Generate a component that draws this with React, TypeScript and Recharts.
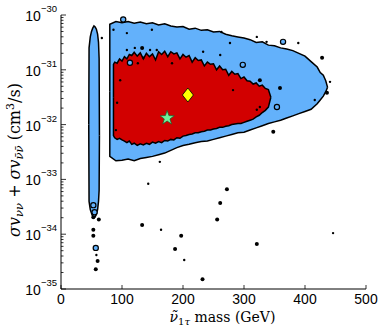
import React from "react";
import { Area, ComposedChart, Scatter, XAxis, YAxis } from "recharts";

// axis ticks
const massTicks = [0, 100, 200, 300, 400, 500];
const decades = [-35, -34, -33, -32, -31, -30];

// light blue region (log10 of sigma v), left edge and right tip closed with lo == hi
const outerMass = [80, 80, 90, 100, 110, 120, 130, 140, 150, 160, 170, 180, 190, 200, 210, 220, 230, 240, 250, 260, 270, 280, 290, 300, 310, 320, 330, 340, 350, 360, 370, 380, 390, 400, 410, 420, 425, 430, 434, 437];
const outerHigh = [-31.4, -30.17, -30.12, -30.14, -30.12, -30.15, -30.13, -30.16, -30.14, -30.18, -30.16, -30.2, -30.22, -30.21, -30.26, -30.24, -30.28, -30.27, -30.31, -30.3, -30.35, -30.38, -30.4, -30.42, -30.45, -30.5, -30.49, -30.55, -30.56, -30.6, -30.62, -30.65, -30.7, -30.75, -30.85, -30.95, -31.05, -31.1, -31.2, -31.32];
const outerLow = [-31.4, -32.58, -32.66, -32.65, -32.63, -32.66, -32.62, -32.6, -32.58, -32.55, -32.52, -32.47, -32.42, -32.38, -32.36, -32.33, -32.31, -32.3, -32.27, -32.24, -32.21, -32.18, -32.15, -32.14, -32.1, -32.06, -32.02, -31.98, -31.95, -31.92, -31.88, -31.84, -31.8, -31.76, -31.72, -31.62, -31.55, -31.48, -31.4, -31.32];

// red region
const innerMass = [86, 86, 88, 92, 96, 100, 104, 108, 112, 116, 120, 125, 130, 135, 140, 145, 150, 155, 160, 165, 170, 175, 180, 185, 190, 195, 200, 205, 210, 215, 220, 225, 230, 235, 240, 245, 250, 255, 260, 265, 270, 275, 280, 285, 290, 295, 300, 305, 310, 315, 320, 325, 330, 335, 340, 344];
const innerHigh = [-31.5, -30.9, -30.86, -30.88, -30.8, -30.84, -30.76, -30.8, -30.72, -30.74, -30.68, -30.75, -30.69, -30.8, -30.7, -30.76, -30.71, -30.82, -30.67, -30.72, -30.66, -30.76, -30.67, -30.71, -30.69, -30.8, -30.72, -30.77, -30.74, -30.86, -30.78, -30.83, -30.82, -30.93, -30.86, -30.9, -30.89, -31.0, -30.93, -31.0, -30.99, -31.1, -31.03, -31.08, -31.07, -31.16, -31.13, -31.2, -31.21, -31.26, -31.24, -31.3, -31.28, -31.34, -31.36, -31.5];
const innerLow = [-31.5, -32.2, -32.24, -32.27, -32.25, -32.28, -32.3, -32.33, -32.3, -32.36, -32.34, -32.38, -32.35, -32.37, -32.34, -32.36, -32.32, -32.34, -32.31, -32.33, -32.29, -32.3, -32.27, -32.28, -32.24, -32.25, -32.21, -32.2, -32.18, -32.17, -32.15, -32.15, -32.13, -32.12, -32.1, -32.1, -32.08, -32.07, -32.05, -32.05, -32.03, -32.02, -32.0, -31.99, -31.98, -31.98, -31.96, -31.94, -31.92, -31.9, -31.86, -31.83, -31.78, -31.74, -31.68, -31.5];

// narrow blue strip near 55 GeV
const stripMass = [45.5, 46, 48, 50, 52, 54, 56, 58, 60, 61.5, 62.5, 63];
const stripHigh = [-32, -30.6, -30.4, -30.3, -30.24, -30.2, -30.22, -30.26, -30.35, -30.5, -30.8, -32.2];
const stripLow = [-32, -33.4, -33.55, -33.62, -33.68, -33.7, -33.68, -33.64, -33.55, -33.4, -33.2, -32.2];

// isolated islands
const islandMass = [53, 55, 57, 102, 113, 364, 298, 354];
const islandLog = [-33.47, -33.6, -34.25, -30.08, -30.87, -30.49, -30.91, -31.68];

const dotMass = [143, 162, 164, 202, 446, 86, 108, 149, 108, 121, 146, 157, 182, 126, 135, 97, 263, 321, 337, 389, 277, 233, 261, 416, 441, 282, 326, 321, 67, 92, 90, 58];
const dotLog = [-33.08, -32.68, -33.92, -34.47, -33.98, -30.27, -30.33, -30.27, -30.64, -30.6, -30.64, -30.64, -30.88, -30.88, -30.78, -31.19, -30.31, -30.4, -30.49, -30.51, -30.51, -30.67, -30.73, -31.55, -31.22, -31.37, -31.68, -31.73, -30.42, -31.6, -32.1, -34.38];

const blobMass = [272, 261, 256, 133, 197, 321, 187, 232, 348, 133, 428, 436, 326, 359, 53, 62, 53, 53, 60, 57];
const blobLog = [-33.18, -33.43, -33.73, -33.83, -34.03, -34.18, -34.27, -34.82, -32.13, -30.6, -30.78, -31.42, -31.19, -31.33, -33.69, -33.73, -33.92, -34.03, -34.49, -34.64];

const bestMass = [208];
const bestLog = [-31.46];
const starMass = [174];
const starLog = [-31.88];

const band = (m: number[], lo: number[], hi: number[]) =>
  m.map((mass, i) => ({ mass, band: [lo[i], hi[i]] }));
const pts = (m: number[], l: number[]) => m.map((mass, i) => ({ mass, log: l[i] }));

const minorTicks: number[] = [];
decades.slice(0, -1).forEach((d) => {
  for (let k = 2; k <= 9; k++) minorTicks.push(d + Math.log10(k));
});
const yTicks = [...decades, ...minorTicks].sort((a, b) => a - b);

const sans = "'Liberation Sans', Arial, sans-serif";
const serif = "'DejaVu Serif', serif";
const isMajor = (v: number) => Math.abs(v - Math.round(v)) < 1e-6;

function BottomTick({ x, y, payload }: any) {
  return (
    <g>
      <line x1={x} x2={x} y1={y} y2={y - 4} stroke="#000" strokeWidth={0.8} />
      <text x={x} y={y + 15} textAnchor="middle" fontSize={14} fontFamily={sans}>
        {payload.value}
      </text>
    </g>
  );
}

function TopTick({ x, y }: any) {
  return <line x1={x} x2={x} y1={y} y2={y + 4} stroke="#000" strokeWidth={0.8} />;
}

function LeftTick({ x, y, payload }: any) {
  const v = payload.value;
  const major = isMajor(v);
  return (
    <g>
      <line x1={x} x2={x + (major ? 5 : 2.5)} y1={y} y2={y} stroke="#000" strokeWidth={0.8} />
      {major && (
        <text x={x - 4} y={y + 6} textAnchor="end" fontSize={14} fontFamily={sans}>
          10
          <tspan dy={-9} fontSize={9.5}>
            {"\u2212" + Math.abs(Math.round(v))}
          </tspan>
        </text>
      )}
    </g>
  );
}

function RightTick({ x, y, payload }: any) {
  const major = isMajor(payload.value);
  return <line x1={x} x2={x - (major ? 5 : 2.5)} y1={y} y2={y} stroke="#000" strokeWidth={0.8} />;
}

const dot = (r: number) => (p: any) => <circle cx={p.cx} cy={p.cy} r={r} fill="#000" />;
const island = (p: any) => (
  <circle cx={p.cx} cy={p.cy} r={2.6} fill="#63b1fb" stroke="#000" strokeWidth={1.2} />
);
const diamond = (p: any) => (
  <path
    d={`M${p.cx},${p.cy - 7}L${p.cx + 5.5},${p.cy}L${p.cx},${p.cy + 7}L${p.cx - 5.5},${p.cy}Z`}
    fill="#ffff00"
    stroke="#000"
    strokeWidth={0.8}
  />
);
const star = (p: any) => {
  let d = "";
  for (let i = 0; i < 10; i++) {
    const r = i % 2 === 0 ? 7.5 : 3;
    const a = -Math.PI / 2 + (i * Math.PI) / 5;
    d += `${i === 0 ? "M" : "L"}${p.cx + r * Math.cos(a)},${p.cy + r * Math.sin(a)}`;
  }
  return <path d={d + "Z"} fill="#6ff09a" stroke="#1a5a2a" strokeWidth={0.7} />;
};

export default function App() {
  return (
    <div style={{ position: "absolute", left: 0, top: 0 }}>
      <ComposedChart width={382} height={327} margin={{ top: 15, right: 16, bottom: 0, left: 0 }}>
        <XAxis
          type="number"
          dataKey="mass"
          domain={[0, 500]}
          ticks={massTicks}
          allowDataOverflow
          height={38}
          tickSize={0}
          tickMargin={0}
          tickLine={false}
          tick={<BottomTick />}
          axisLine={{ stroke: "#000", strokeWidth: 1 }}
          label={{
            content: (p: any) => (
              <text x={p.viewBox.x + p.viewBox.width / 2 + 9} y={322} textAnchor="middle" fontFamily={serif} fontSize={14}>
                <tspan fontStyle="italic">{"\u03bd\u0303"}</tspan>
                <tspan fontSize={10} dy={3}>1</tspan>
                <tspan fontSize={10} fontStyle="italic">{"\u03c4"}</tspan>
                <tspan dy={-3}>{"  mass (GeV)"}</tspan>
              </text>
            ),
          }}
        />
        <XAxis
          xAxisId="top"
          orientation="top"
          type="number"
          domain={[0, 500]}
          ticks={massTicks}
          allowDataOverflow
          height={0}
          tickSize={0}
          tickMargin={0}
          tickLine={false}
          tick={<TopTick />}
          axisLine={{ stroke: "#8c8c8c", strokeWidth: 2 }}
        />
        <YAxis
          type="number"
          dataKey="log"
          domain={[-35, -30]}
          ticks={yTicks}
          interval={0}
          allowDataOverflow
          width={61}
          tickSize={0}
          tickMargin={0}
          tickLine={false}
          tick={<LeftTick />}
          axisLine={{ stroke: "#000", strokeWidth: 1 }}
          label={{
            content: (p: any) => {
              const cx = 20;
              const cy = p.viewBox.y + p.viewBox.height / 2 + 8;
              return (
                <text x={cx} y={cy} transform={`rotate(-90 ${cx} ${cy})`} textAnchor="middle" fontFamily={serif} fontSize={16}>
                  <tspan fontStyle="italic">{"\u03c3v"}</tspan>
                  <tspan fontStyle="italic" fontSize={11.5} dy={3}>{"\u03bd\u03bd"}</tspan>
                  <tspan dy={-3}>{" + "}</tspan>
                  <tspan fontStyle="italic">{"\u03c3v"}</tspan>
                  <tspan fontStyle="italic" fontSize={11.5} dy={3}>{"\u03bd\u0304\u03bd\u0304"}</tspan>
                  <tspan dy={-3}>{" (cm"}</tspan>
                  <tspan fontSize={11} dy={-6}>3</tspan>
                  <tspan dy={6}>{"/s)"}</tspan>
                </text>
              );
            },
          }}
        />
        <YAxis
          yAxisId="right"
          orientation="right"
          type="number"
          domain={[-35, -30]}
          ticks={yTicks}
          interval={0}
          allowDataOverflow
          width={0}
          tickSize={0}
          tickMargin={0}
          tickLine={false}
          tick={<RightTick />}
          axisLine={{ stroke: "#000", strokeWidth: 1 }}
        />

        <Area data={band(stripMass, stripLow, stripHigh)} dataKey="band" type="linear" fill="#63b1fb" fillOpacity={1} stroke="#000" strokeWidth={1.5} dot={false} activeDot={false} isAnimationActive={false} />
        <Area data={band(outerMass, outerLow, outerHigh)} dataKey="band" type="linear" fill="#63b1fb" fillOpacity={1} stroke="#000" strokeWidth={1.5} dot={false} activeDot={false} isAnimationActive={false} />
        <Area data={band(innerMass, innerLow, innerHigh)} dataKey="band" type="linear" fill="#d20000" fillOpacity={1} stroke="#000" strokeWidth={1.5} dot={false} activeDot={false} isAnimationActive={false} />

        <Scatter data={pts(islandMass, islandLog)} shape={island} isAnimationActive={false} />
        <Scatter data={pts(dotMass, dotLog)} shape={dot(1.2)} isAnimationActive={false} />
        <Scatter data={pts(blobMass, blobLog)} shape={dot(2)} isAnimationActive={false} />
        <Scatter data={pts(bestMass, bestLog)} shape={diamond} isAnimationActive={false} />
        <Scatter data={pts(starMass, starLog)} shape={star} isAnimationActive={false} />
      </ComposedChart>
    </div>
  );
}
